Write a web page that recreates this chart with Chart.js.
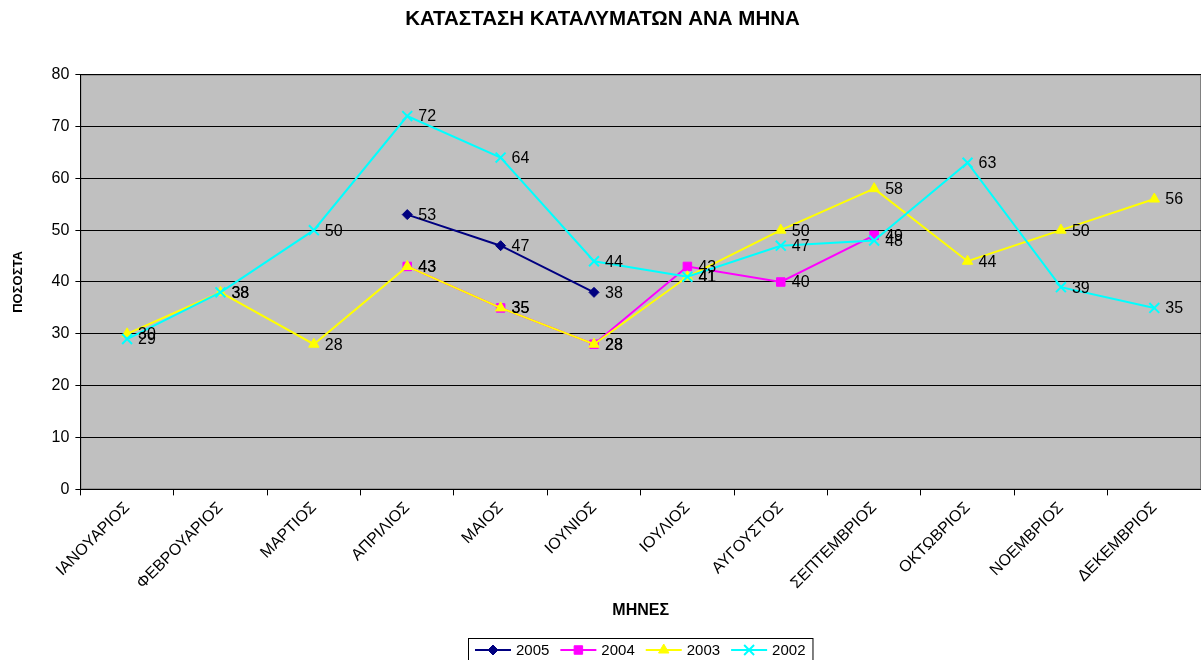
<!DOCTYPE html>
<html>
<head>
<meta charset="utf-8">
<script src="https://cdn.jsdelivr.net/npm/chart.js@4.4.1/dist/chart.umd.min.js"></script>
<style>
  html, body { margin: 0; padding: 0; background: #fff; }
  #wrap { width: 1201px; height: 660px; }
</style>
</head>
<body>
<div id="wrap"><canvas id="chart"></canvas></div>
<script>
// month categories and yearly occupancy percentages
const months = [
  "ΙΑΝΟΥΑΡΙΟΣ", "ΦΕΒΡΟΥΑΡΙΟΣ", "ΜΑΡΤΙΟΣ", "ΑΠΡΙΛΙΟΣ", "ΜΑΙΟΣ", "ΙΟΥΝΙΟΣ",
  "ΙΟΥΛΙΟΣ", "ΑΥΓΟΥΣΤΟΣ", "ΣΕΠΤΕΜΒΡΙΟΣ", "ΟΚΤΩΒΡΙΟΣ", "ΝΟΕΜΒΡΙΟΣ", "ΔΕΚΕΜΒΡΙΟΣ",
];
const yearLabels = ["2005", "2004", "2003", "2002"];
const values2005 = [null, null, null, 53, 47, 38, null, null, null, null, null, null];
const values2004 = [null, null, null, 43, 35, 28, 43, 40, 49, null, null, null];
const values2003 = [30, 38, 28, 43, 35, 28, 41, 50, 58, 44, 50, 56];
const values2002 = [29, 38, 50, 72, 64, 44, 41, 47, 48, 63, 39, 35];
const yTicks = [0, 10, 20, 30, 40, 50, 60, 70, 80];

const seriesStyle = [
  { color: "#000080", pointStyle: "rectRot", radius: 5 },
  { color: "#FF00FF", pointStyle: "rect", radius: 6 },
  { color: "#FFFF00", pointStyle: "triangle", radius: 6 },
  { color: "#00FFFF", pointStyle: "crossRot", radius: 7 },
];

const font = "Arial, 'Liberation Sans', sans-serif";

function makeDataset(label, data, index) {
  const st = seriesStyle[index];
  return {
    label,
    data,
    borderColor: st.color,
    backgroundColor: st.color,
    borderWidth: 2,
    pointStyle: st.pointStyle,
    pointRadius: st.radius,
    pointBorderWidth: st.pointStyle === "crossRot" ? 2 : 1,
    pointBorderColor: st.color,
    pointBackgroundColor: st.color,
    tension: 0,
    spanGaps: false,
    // later series sit on top, like the original
    order: 4 - index,
  };
}

const plotBackground = {
  id: "plotBackground",
  beforeDraw(chart) {
    const { ctx, chartArea: a } = chart;
    ctx.save();
    ctx.fillStyle = "#C0C0C0";
    ctx.fillRect(a.left, a.top, a.right - a.left, a.bottom - a.top);
    ctx.strokeStyle = "#808080";
    ctx.lineWidth = 1;
    ctx.strokeRect(a.left + 0.5, a.top + 0.5, a.right - a.left - 1, a.bottom - a.top - 1);
    ctx.restore();
  },
};

const valueLabels = {
  id: "valueLabels",
  afterDatasetsDraw(chart) {
    const { ctx } = chart;
    ctx.save();
    ctx.font = "16px " + font;
    ctx.fillStyle = "#000";
    ctx.textAlign = "left";
    ctx.textBaseline = "middle";
    chart.data.datasets.forEach((ds, i) => {
      const meta = chart.getDatasetMeta(i);
      meta.data.forEach((pt, j) => {
        const v = ds.data[j];
        if (v === null || v === undefined) return;
        ctx.fillText(String(v), pt.x + 11, pt.y + 1);
      });
    });
    ctx.restore();
  },
};

const boxLegend = {
  id: "boxLegend",
  afterDraw(chart) {
    const { ctx } = chart;
    ctx.save();
    ctx.font = "15px " + font;
    const lineLen = 36;
    const gapText = 5;
    const gapItem = 11;
    const items = chart.data.datasets.map((ds) => ({
      ds,
      w: lineLen + gapText + ctx.measureText(ds.label).width,
    }));
    const totalW = items.reduce((s, it) => s + it.w, 0) + gapItem * (items.length - 1) + 14;
    const left = Math.round(chart.width / 2 - totalW / 2 + 40);
    const top = 638;
    ctx.strokeStyle = "#000";
    ctx.lineWidth = 1;
    ctx.strokeRect(left + 0.5, top + 0.5, totalW, 30);
    let x = left + 7;
    const y = top + 12;
    items.forEach(({ ds, w }) => {
      ctx.strokeStyle = ds.borderColor;
      ctx.fillStyle = ds.borderColor;
      ctx.lineWidth = 2;
      ctx.beginPath();
      ctx.moveTo(x, y);
      ctx.lineTo(x + lineLen, y);
      ctx.stroke();
      ctx.lineWidth = ds.pointBorderWidth;
      Chart.helpers.drawPoint(ctx, {
        pointStyle: ds.pointStyle,
        radius: ds.pointRadius,
        borderWidth: ds.pointBorderWidth,
        rotation: 0,
      }, x + lineLen / 2, y);
      ctx.fillStyle = "#000";
      ctx.textAlign = "left";
      ctx.textBaseline = "middle";
      ctx.fillText(ds.label, x + lineLen + gapText, y + 1);
      x += w + gapItem;
    });
    ctx.restore();
  },
};

const ctx = document.getElementById("chart").getContext("2d");
new Chart(ctx, {
  type: "line",
  data: {
    labels: months,
    datasets: [
      makeDataset(yearLabels[0], values2005, 0),
      makeDataset(yearLabels[1], values2004, 1),
      makeDataset(yearLabels[2], values2003, 2),
      makeDataset(yearLabels[3], values2002, 3),
    ],
  },
  options: {
    responsive: true,
    maintainAspectRatio: false,
    animation: false,
    devicePixelRatio: 1,
    layout: { autoPadding: false, padding: { left: 4, right: 0, top: 0, bottom: 40 } },
    plugins: {
      legend: { display: false },
      tooltip: { enabled: false },
      title: {
        display: true,
        text: "ΚΑΤΑΣΤΑΣΗ ΚΑΤΑΛΥΜΑΤΩΝ ΑΝΑ ΜΗΝΑ",
        color: "#000",
        font: { family: font, size: 20.5, weight: "bold" },
        padding: { top: 7, bottom: 43 },
      },
    },
    scales: {
      x: {
        offset: true,
        grid: {
          offset: true,
          drawOnChartArea: false,
          drawTicks: true,
          tickLength: 6,
          color: "#000",
        },
        border: { color: "#000", width: 1 },
        ticks: {
          color: "#000",
          font: { family: font, size: 16 },
          minRotation: 45,
          maxRotation: 45,
          autoSkip: false,
          padding: 3,
        },
        title: {
          display: true,
          text: "ΜΗΝΕΣ",
          color: "#000",
          font: { family: font, size: 16, weight: "bold" },
          padding: { top: 5, bottom: 0 },
        },
      },
      y: {
        min: yTicks[0],
        max: yTicks[yTicks.length - 1],
        afterBuildTicks(scale) {
          scale.ticks = yTicks.map((v) => ({ value: v }));
        },
        grid: { color: "#000", tickLength: 5, lineWidth: 1 },
        border: { color: "#000", width: 1 },
        ticks: {
          color: "#000",
          font: { family: font, size: 16 },
          padding: 6,
        },
        title: {
          display: true,
          text: "ΠΟΣΟΣΤΑ",
          color: "#000",
          font: { family: font, size: 13, weight: "bold" },
          padding: { top: 7, bottom: 19 },
        },
      },
    },
  },
  plugins: [plotBackground, valueLabels, boxLegend],
});
</script>
</body>
</html>
